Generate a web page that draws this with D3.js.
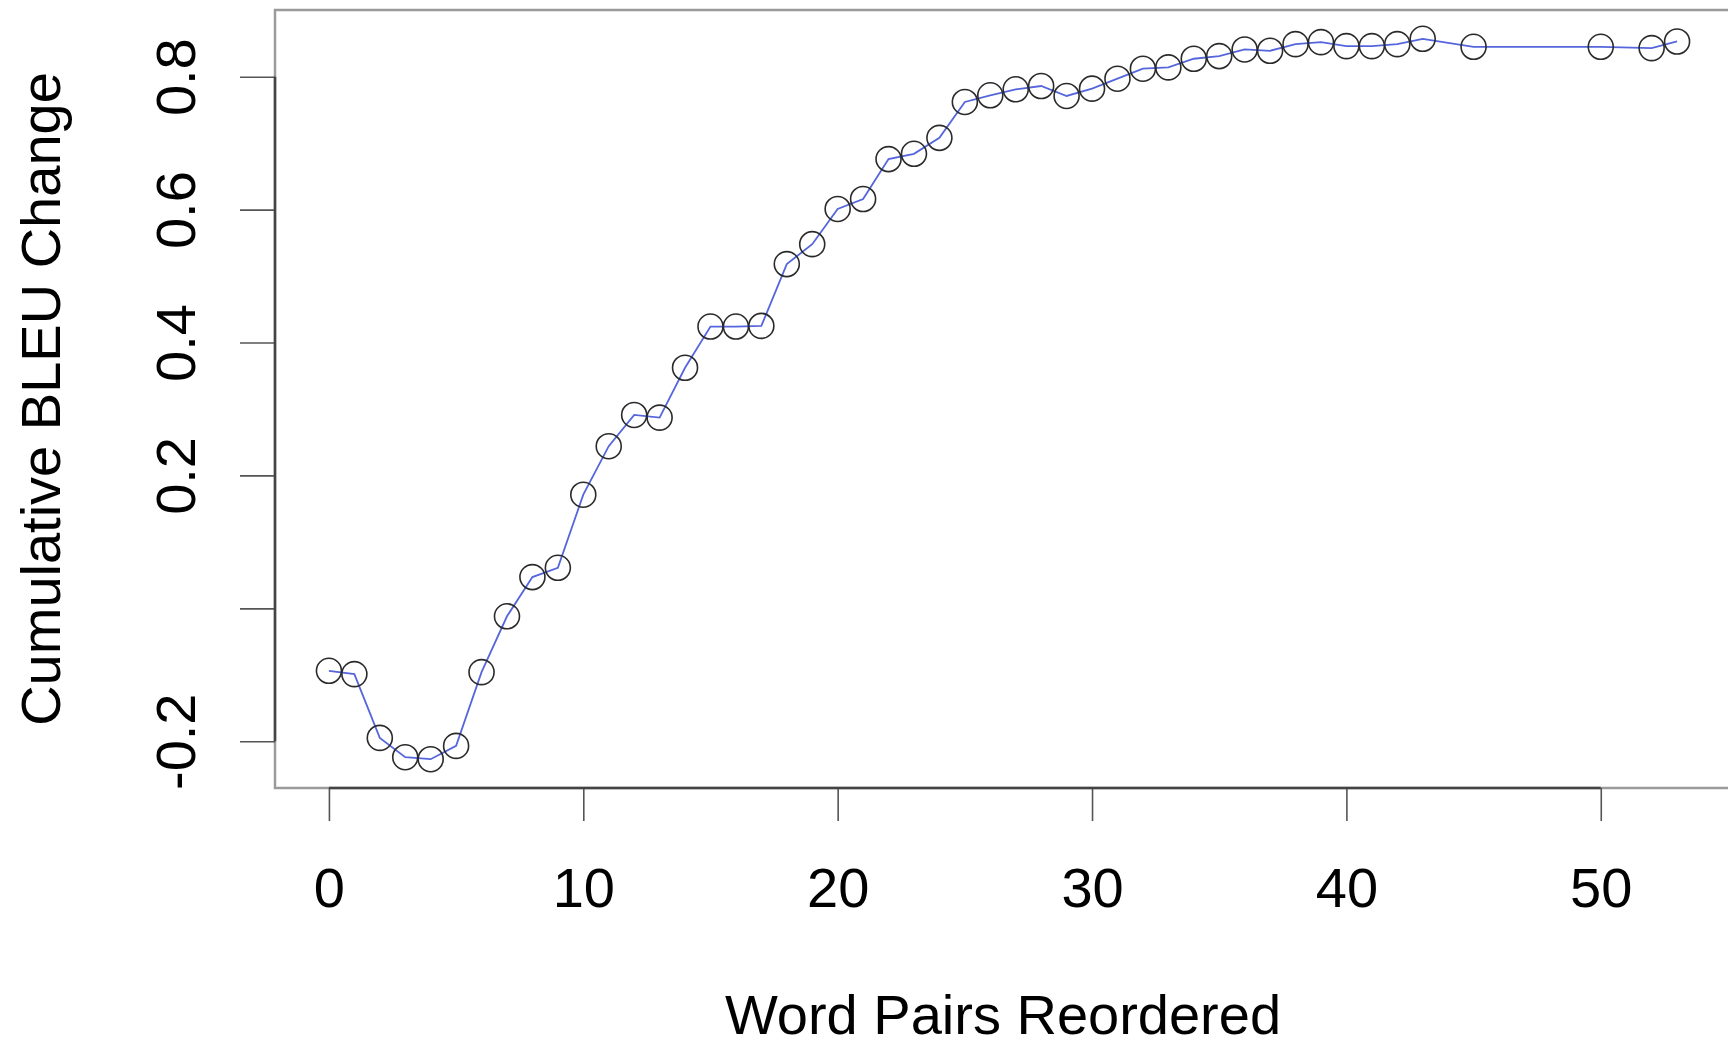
<!DOCTYPE html>
<html>
<head>
<meta charset="utf-8">
<script src="https://cdn.jsdelivr.net/npm/d3@7"></script>
<style>
  body { margin: 0; background: #fff; }
  svg { display: block; font-family: "Liberation Sans", Arial, Helvetica, sans-serif; }
</style>
</head>
<body>
<div class="chart"></div>
<script>
"use strict";

// DATA ----------------------------
const wordPairs = [
  0, 1, 2, 3, 4, 5, 6, 7, 8, 9, 10, 11, 12, 13, 14, 15, 16, 17, 18, 19,
  20, 21, 22, 23, 24, 25, 26, 27, 28, 29, 30, 31, 32, 33, 34, 35, 36, 37,
  38, 39, 40, 41, 42, 43, 45, 50, 52, 53
];
const bleuChange = [
  -0.094, -0.099, -0.195, -0.224, -0.227, -0.207, -0.096, -0.012, 0.047, 0.061,
  0.171, 0.244, 0.291, 0.287, 0.362, 0.424, 0.424, 0.425, 0.518, 0.548,
  0.601, 0.616, 0.676, 0.684, 0.708, 0.762, 0.772, 0.781, 0.786, 0.771,
  0.782, 0.797, 0.812, 0.814, 0.827, 0.831, 0.841, 0.839, 0.849, 0.852,
  0.846, 0.846, 0.849, 0.857, 0.845, 0.845, 0.843, 0.853
];
const xTicks = [0, 10, 20, 30, 40, 50];
const yTicks = [-0.2, 0, 0.2, 0.4, 0.6, 0.8];
const yTickLabels = ["-0.2", "", "0.2", "0.4", "0.6", "0.8"];
const xTitle = "Word Pairs Reordered";
const yTitle = "Cumulative BLEU Change";

const WIDTH = 1728, HEIGHT = 1047;
const PLOT = { left: 275, top: 10, bottom: 788, right: 1731 };
const FONT = 56;

const data = wordPairs.map((x, i) => ({ x: x, y: bleuChange[i] }));

// CHART INIT ----------------------------
const svg = d3
  .select(".chart")
  .append("svg")
  .attr("width", WIDTH)
  .attr("height", HEIGHT);

// R-style 4% padding around the data range
const xExt = d3.extent(wordPairs), yExt = d3.extent(bleuChange);
const xPad = (xExt[1] - xExt[0]) * 0.04, yPad = (yExt[1] - yExt[0]) * 0.04;

const xScale = d3.scaleLinear()
  .domain([xExt[0] - xPad, xExt[1] + xPad])
  .range([PLOT.left, PLOT.right]);
const yScale = d3.scaleLinear()
  .domain([yExt[0] - yPad, yExt[1] + yPad])
  .range([PLOT.bottom, PLOT.top]);

// plot box (light)
svg.append("rect")
  .attr("x", PLOT.left)
  .attr("y", PLOT.top)
  .attr("width", PLOT.right - PLOT.left)
  .attr("height", PLOT.bottom - PLOT.top)
  .attr("fill", "none")
  .attr("stroke", "#9a9a9a")
  .attr("stroke-width", 2.5);

// x axis
const xAxis = d3.axisBottom(xScale)
  .tickValues(xTicks)
  .tickSize(33)
  .tickSizeOuter(0)
  .tickFormat(d3.format("d"));

const xGroup = svg.append("g")
  .attr("class", "x-axis")
  .attr("transform", `translate(0, ${PLOT.bottom})`)
  .call(xAxis);

xGroup.select(".domain").remove();
xGroup.append("line")
  .attr("x1", xScale(xTicks[0]))
  .attr("x2", xScale(xTicks[xTicks.length - 1]))
  .attr("stroke", "#444")
  .attr("stroke-width", 2.5);
xGroup.selectAll(".tick line").attr("stroke", "#555").attr("stroke-width", 1.6);
xGroup.selectAll(".tick text")
  .attr("y", 119)
  .attr("dy", 0)
  .attr("fill", "#000")
  .style("font-size", FONT + "px")
  .style("font-family", "'Liberation Sans', Arial, sans-serif");

// y axis
const yAxis = d3.axisLeft(yScale)
  .tickValues(yTicks)
  .tickSize(35)
  .tickSizeOuter(0)
  .tickFormat((d, i) => yTickLabels[i]);

const yGroup = svg.append("g")
  .attr("class", "y-axis")
  .attr("transform", `translate(${PLOT.left}, 0)`)
  .call(yAxis);

yGroup.select(".domain").remove();
yGroup.append("line")
  .attr("y1", yScale(yTicks[0]))
  .attr("y2", yScale(yTicks[yTicks.length - 1]))
  .attr("stroke", "#444")
  .attr("stroke-width", 2.5);
yGroup.selectAll(".tick line").attr("stroke", "#555").attr("stroke-width", 1.6);
yGroup.selectAll(".tick text")
  .attr("x", 0)
  .attr("dy", 0)
  .attr("text-anchor", "middle")
  .attr("transform", "translate(-80, 0) rotate(-90)")
  .attr("fill", "#000")
  .style("font-size", FONT + "px")
  .style("font-family", "'Liberation Sans', Arial, sans-serif");

// axis titles
svg.append("text")
  .attr("x", (PLOT.left + PLOT.right) / 2)
  .attr("y", 1034)
  .attr("text-anchor", "middle")
  .style("font-size", FONT + "px")
  .text(xTitle);

svg.append("text")
  .attr("transform", `translate(60, ${(PLOT.top + PLOT.bottom) / 2}) rotate(-90)`)
  .attr("text-anchor", "middle")
  .style("font-size", FONT + "px")
  .text(yTitle);

// line
const line = d3.line().x((d) => xScale(d.x)).y((d) => yScale(d.y));

svg.append("path")
  .datum(data)
  .attr("fill", "none")
  .attr("stroke", "#5566dd")
  .attr("stroke-width", 1.8)
  .attr("d", line);

// open circles
svg.selectAll("circle.pt")
  .data(data)
  .enter()
  .append("circle")
  .attr("class", "pt")
  .attr("cx", (d) => xScale(d.x))
  .attr("cy", (d) => yScale(d.y))
  .attr("r", 12.5)
  .attr("fill", "none")
  .attr("stroke", "#2a2a2a")
  .attr("stroke-width", 1.6);
</script>
</body>
</html>
